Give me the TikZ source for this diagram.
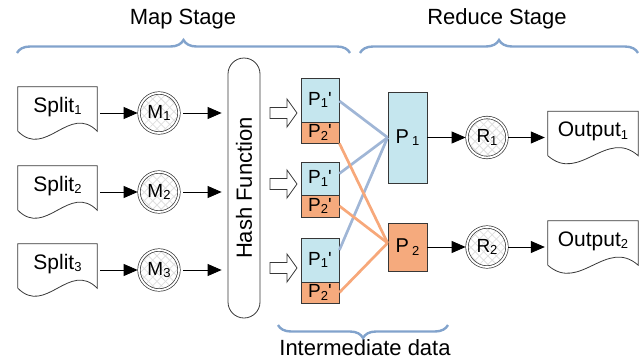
\documentclass[tikz,border=0pt]{standalone}
\usepackage{fontspec}
\setmainfont{Liberation Sans}
\usetikzlibrary{arrows.meta,decorations.pathreplacing,patterns.meta,calc}

\definecolor{cellblue}{RGB}{197,230,238}
\definecolor{cellorange}{RGB}{245,170,125}
\definecolor{lineblue}{RGB}{160,182,214}
\definecolor{lineorange}{RGB}{247,168,122}
\definecolor{bracecol}{RGB}{130,163,204}
\definecolor{edgegray}{RGB}{55,55,55}

\newcommand{\idx}[1]{\raisebox{-2.5pt}{\fontsize{13}{13}\selectfont #1}}
% flat top, wavy bottom
\newcommand{\docoutline}[1]{%
  \draw[edgegray,line width=0.8pt] ($(#1.south west)+(0,-8)$) -- (#1.north west) -- (#1.north east)
    -- ($(#1.south east)+(0,-8)$)
    .. controls ($(#1.south east)!0.35!(#1.south west)+(0,-36)$) and ($(#1.south east)!0.65!(#1.south west)+(0,20)$)
    .. ($(#1.south west)+(0,-8)$);}

\begin{document}
\begin{tikzpicture}[x=1pt,y=-1pt,
  docbox/.style={minimum height=52pt, inner sep=0pt, text height=15pt, text depth=17pt, font=\fontsize{21}{24}\selectfont},
  worker/.style={circle, draw=edgegray, double, double distance=1.8pt, line width=0.7pt, minimum size=40pt, inner sep=0pt,
    font=\fontsize{19}{20}\selectfont, preaction={fill=white},
    preaction={pattern={Lines[angle=45,distance=6pt,line width=0.8pt]}, pattern color=gray!25},
    pattern={Lines[angle=-45,distance=6pt,line width=0.8pt]}, pattern color=gray!25},
  hashbox/.style={draw=edgegray, line width=0.8pt, rounded corners=16pt, minimum width=32pt, minimum height=260pt, inner sep=0pt, font=\fontsize{22}{24}\selectfont},
  cell/.style={draw=edgegray, line width=0.8pt, minimum width=38pt, inner sep=0pt, font=\fontsize{19}{20}\selectfont},
  part/.style={draw=edgegray, line width=0.8pt, minimum width=39pt, inner sep=0pt, font=\fontsize{20}{22}\selectfont},
  flow/.style={-{Triangle[length=14pt,width=12pt]}, line width=0.8pt, black},
  hollow/.style={draw=edgegray, line width=0.8pt, fill=white},
  tieblue/.style={lineblue, line width=2.7pt},
  tieorange/.style={lineorange, line width=2.7pt},
  stagebrace/.style={bracecol, line width=2.4pt, decorate, decoration={brace, amplitude=13pt}},
  stage/.style={font=\fontsize{22}{24}\selectfont}]
\useasboundingbox (0,0) rectangle (641,362);

% stages
\node[stage] (mapst) at (183,19) {Map Stage};
\node[stage] (redst) at (497,19) {Reduce Stage};
\node[stage] (interm) at (365,348) {Intermediate data};
\draw[stagebrace] (17,53) -- (350,53);
\draw[stagebrace] (360,53) -- (638,53);
\draw[stagebrace] (448,325) -- (278,325);

% map side
\node[hashbox] (hash) at (244,188) {\rotatebox{90}{Hash Function}};
\foreach \i/\y in {1/113,2/192,3/270}{
  \node[docbox, minimum width=79pt] (s\i) at (57.5,\y) {Split\idx{\i}};
  \docoutline{s\i}
  \node[worker] (m\i) at (159,\y) {M\idx{\i}};
  \draw[flow, shorten <=3pt, shorten >=1pt] (s\i) -- (m\i);
  \draw[flow, shorten <=4pt, shorten >=6pt] (m\i) -- (m\i -| hash.west);
}

% intermediate data
\foreach \k/\ya/\ha/\yb/\hb/\yh in {1/100/44/132.5/21/113, 2/178.5/33/206/22/184, 3/260/44/292.5/21/268}{
  \node[cell, fill=cellblue, minimum height=\ha pt] (pa\k) at (320,\ya) {P\idx{1}\textquotesingle};
  \node[cell, fill=cellorange, minimum height=\hb pt] (pb\k) at (320,\yb) {P\idx{2}\textquotesingle};
  \draw[hollow] (270,\yh-5.5) -- ++(17,0) -- ++(0,-8.5) -- ++(10,14) -- ++(-10,14) -- ++(0,-8.5) -- ++(-17,0) -- cycle;
}

% reduce side
\node[part, fill=cellblue, minimum height=91pt] (p1) at (407.5,137.5) {P\,\idx{1}};
\node[part, fill=cellorange, minimum height=48pt] (p2) at (407.5,247) {P\,\idx{2}};
\draw[tieblue] ([yshift=-1pt]pa1.east) -- (p1.west);
\draw[tieblue] ([yshift=5pt]pa2.east) -- (p1.west);
\draw[tieblue] ([yshift=10pt]pa3.east) -- (p1.west);
\draw[tieorange] (pb1.south east) -- ([yshift=4pt]p2.west);
\draw[tieorange] (pb2.east) -- ([yshift=4pt]p2.west);
\draw[tieorange] (pb3.east) -- ([yshift=4pt]p2.west);

\foreach \j/\y in {1/137.5,2/247}{
  \node[worker] (r\j) at (487,\y) {R\idx{\j}};
  \node[docbox, minimum width=90pt] (o\j) at (593,\y) {Output\idx{\j}};
  \docoutline{o\j}
  \draw[flow, shorten >=1pt] (p\j.east |- r\j) -- (r\j);
  \draw[flow, shorten <=1pt, shorten >=3pt] (r\j) -- (o\j);
}
\end{tikzpicture}
\end{document}
